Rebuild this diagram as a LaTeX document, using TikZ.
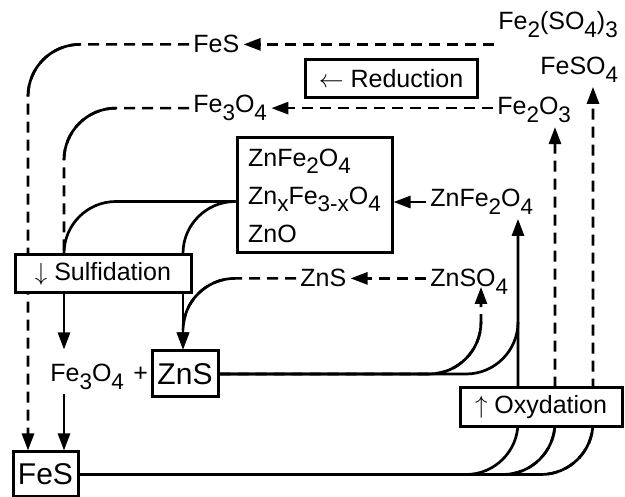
\documentclass[tikz,border=0pt]{standalone}
\usepackage{fontspec}
\setmainfont{Liberation Sans}
\usepackage{graphicx}
\usetikzlibrary{arrows.meta,backgrounds}

\newcommand{\chs}[1]{\raisebox{-0.3em}{\scalebox{0.9}{#1}}}

\begin{document}
\begin{tikzpicture}[x=1pt, y=-1pt, line width=2.7pt, >={Triangle[length=17pt,width=12pt]},
        font=\fontsize{25}{30}\selectfont]

        \tikzstyle{lbl} = [inner sep=3pt, anchor=base west]
        \tikzstyle{boxed} = [draw, fill=white, line width=3pt, inner sep=0pt]
        \tikzstyle{stage} = [boxed, minimum height=38pt]
        \tikzstyle{big} = [boxed, minimum width=65pt, minimum height=45pt, font=\fontsize{30}{36}\selectfont]
        \tikzstyle{dsh} = [dash pattern=on 11pt off 7pt]
        \tikzstyle{roundbend} = [rounded corners=52pt]

        \useasboundingbox (0,0) rectangle (625,497);

        % vertical lanes
        \coordinate (laneF) at (28,0);
        \coordinate (laneM) at (64,0);
        \coordinate (laneZ) at (183,0);
        \coordinate (laneS) at (481,0);
        \coordinate (laneO) at (518,0);
        \coordinate (laneR) at (555,0);
        \coordinate (laneT) at (593,0);

        \node (fesT) [lbl] at (189,53) {FeS};
        \node (fe3o4T) [lbl] at (189,113) {Fe\chs{3}O\chs{4}};
        \node (fe2so43) [lbl] at (494,30) {Fe\chs{2}(SO\chs{4})\chs{3}};
        \node (feso4) [lbl] at (536,75) {FeSO\chs{4}};
        \node (fe2o3) [lbl] at (493,115) {Fe\chs{2}O\chs{3}};
        \node (reduc) [stage, minimum width=172pt] at (391,79) {$\leftarrow$ Reduction};

        \node (lst) [boxed, align=left, minimum width=155pt, minimum height=115pt,
            font=\fontsize{25}{38}\selectfont] at (314.5,195.5)
            {ZnFe\chs{2}O\chs{4}\\Zn\chs{x}Fe\chs{3-x}O\chs{4}\\ZnO};
        \node (znfe) [lbl] at (426,207) {ZnFe\chs{2}O\chs{4}};

        \node (sulf) [stage, minimum width=176pt] at (103,274) {$\downarrow$ Sulfidation};
        \node (znsM) [lbl] at (296,287) {ZnS};
        \node (znso4) [lbl] at (426,287) {ZnSO\chs{4}};

        \node (fe3o4B) [lbl] at (46,382) {Fe\chs{3}O\chs{4}};
        \node (plus) [lbl] at (129,382) {+};
        \node (znsB) [big, minimum width=66pt, minimum height=46pt] at (185,374) {ZnS};
        \node (oxy) [stage, minimum width=162pt, minimum height=39pt] at (541,407.5) {$\uparrow$ Oxydation};
        \node (fesB) [big] at (45.5,474.5) {FeS};

        \begin{pgfonlayer}{background}
        \begin{scope}[line width=2.7pt]
        % reduction
        \draw[dsh, ->] (fesT.east -| fe2so43.west) -- (fesT.east);
        \draw[dsh, ->] (fe3o4T.east -| fe2o3.west) -- (fe3o4T.east);
        \draw[dsh, ->, roundbend] (fesT.west) -| (fesB.north -| laneF);
        \draw[roundbend] ([xshift=52pt]laneF |- fesT.west) -| ([yshift=-52pt]laneF |- fesT.west);
        \draw[dsh, roundbend] (fe3o4T.west) -| (sulf.north -| laneM);
        \draw[roundbend] ([xshift=52pt]laneM |- fe3o4T.west) -| ([yshift=-52pt]laneM |- fe3o4T.west);
        \draw[roundbend] ([yshift=-6pt]lst.west) -| (sulf.north -| laneM);
        \draw[roundbend] ([yshift=-6pt]lst.west) -| (sulf.north -| laneZ);

        % sulfidation
        \draw[->] (sulf.south -| laneM) -- (laneM |- znsB.north);
        \draw[->] (sulf.south -| laneZ) -- (znsB.north -| laneZ);
        \draw[->] (fe3o4B.south -| laneM) -- (fesB.north -| laneM);
        \draw[dsh, ->] (znsM.east -| znso4.west) -- (znsM.east);
        \draw[dsh, ->, roundbend] (znsM.west) -| (znsB.north -| laneZ);
        \draw[roundbend] ([xshift=52pt]laneZ |- znsM.west) -| ([yshift=-52pt]laneZ |- znsM.west);

        % oxydation
        \draw[->] (znfe.west) -- (lst.east |- znfe.west);
        \draw[dsh, ->, roundbend] (znsB.east) -| (znso4.base -| laneS);
        \draw[roundbend] (znsB.east) -| ([yshift=52pt]laneS |- znsB.east);
        \draw[roundbend] (znsB.east) -| ([yshift=52pt]laneO |- znsB.east);
        \draw[->, roundbend] (fesB.east) -| (znfe.south -| laneO);
        \draw[dsh, ->, roundbend] (fesB.east) -| (fe2o3.south -| laneR);
        \draw[roundbend] (fesB.east) -| (laneR |- oxy.center);
        \draw[dsh, ->, roundbend] (fesB.east) -| (feso4.south -| laneT);
        \draw[roundbend] (fesB.east) -| (laneT |- oxy.center);
        \end{scope}
        \end{pgfonlayer}

    \end{tikzpicture}
\end{document}
